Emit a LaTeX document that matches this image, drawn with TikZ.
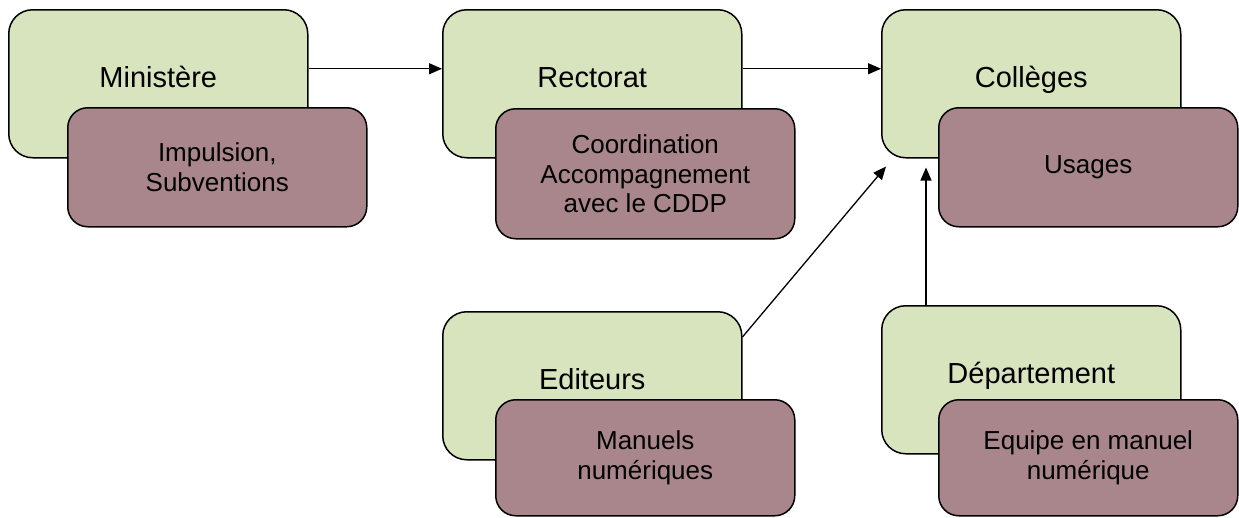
\documentclass[tikz,border=0pt]{standalone}
\usepackage{fontspec}
\setmainfont{Liberation Sans}
\usetikzlibrary{arrows.meta,calc}
\definecolor{vert}{HTML}{D7E4BD}
\definecolor{mauve}{HTML}{A9868B}
\tikzset{
  acteur/.style={draw, line width=1.5pt, fill=vert, rounded corners=24pt, anchor=north west,
    inner sep=0pt, minimum width=299pt, text height=78pt, text depth=70pt,
    font=\fontsize{29}{35}\selectfont},
  role/.style={draw, line width=1.5pt, fill=mauve, rounded corners=20pt, anchor=north west,
    inner sep=0pt, minimum width=299pt, align=center,
    font=\fontsize{26}{29.5}\selectfont},
  fleche/.style={-{Triangle[length=13pt,width=11pt]}, line width=1.3pt}
}
\begin{document}
\begin{tikzpicture}[x=1pt,y=-1pt]
            \useasboundingbox (0,0) rectangle (1239,517);
            % niveaux du haut
            \node[acteur] (min) at (8,9) {Ministère};
            \node[acteur] (rect) at (442,9) {Rectorat};
            \node[acteur] (coll) at (881,9) {Collèges};
            % niveaux du bas
            \node[acteur] (edit) at (442,311) {Editeurs};
            \node[acteur] (dept) at (881,305) {Département};
            % roles
            \node[role, minimum height=119pt] (minr) at (67,107) {Impulsion,\\Subventions};
            \node[role, minimum height=130pt] (rectr) at (495,108) {Coordination\\Accompagnement\\avec le CDDP};
            \node[role, minimum height=119pt] (collr) at (938,107) {Usages};
            \node[role, minimum height=116pt] (editr) at (495,399) {Manuels\\numériques};
            \node[role, minimum height=116pt] (deptr) at (938,399) {Equipe en manuel\\numérique};
            % fleches
            \coordinate (c1) at ($(coll.south west)+(5,8)$);
            \coordinate (c2) at ($(coll.south west)+(45,9)$);
            \draw[fleche] ([yshift=15pt]min.east) -- ([yshift=15pt]rect.west);
            \draw[fleche] ([yshift=15pt]rect.east) -- ([yshift=15pt]coll.west);
            \draw[fleche] (edit.18) -- (c1);
            \draw[fleche] (dept.north -| c2) -- (c2);
        \end{tikzpicture}
\end{document}
